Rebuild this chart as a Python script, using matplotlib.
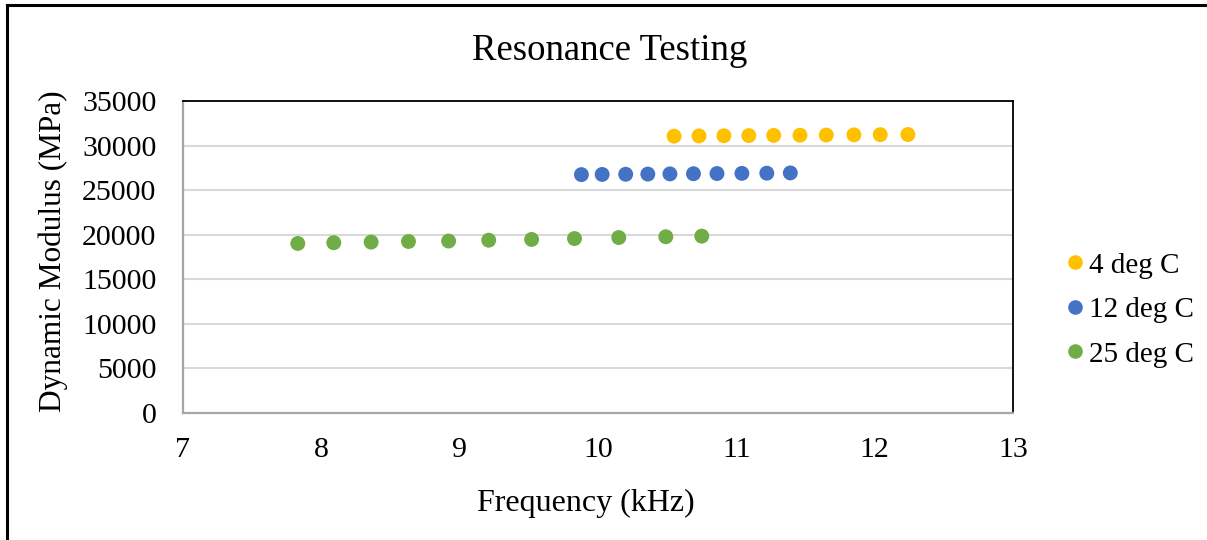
import matplotlib.pyplot as plt
from matplotlib.lines import Line2D

# Resonance test results, frequency (kHz) vs dynamic modulus (MPa)
freq_4c = [10.55, 10.73, 10.91, 11.09, 11.27, 11.46, 11.65, 11.85, 12.04, 12.24]
mod_4c = [31050, 31080, 31100, 31120, 31140, 31160, 31180, 31200, 31220, 31240]

freq_12c = [9.88, 10.03, 10.20, 10.36, 10.52, 10.69, 10.86, 11.04, 11.22, 11.39]
mod_12c = [26740, 26760, 26780, 26800, 26820, 26840, 26860, 26880, 26900, 26930]

freq_25c = [7.83, 8.09, 8.36, 8.63, 8.92, 9.21, 9.52, 9.83, 10.15, 10.49, 10.75]
mod_25c = [19020, 19100, 19170, 19240, 19290, 19380, 19470, 19570, 19680, 19770, 19840]

series = [
    ('4 deg C', freq_4c, mod_4c, '#FFC000'),
    ('12 deg C', freq_12c, mod_12c, '#4472C4'),
    ('25 deg C', freq_25c, mod_25c, '#70AD47'),
]

plt.rcParams['font.family'] = ['Liberation Serif', 'DejaVu Serif']

fig = plt.figure(figsize=(12.07, 5.4), dpi=100)
ax = fig.add_axes([0.1516, 0.2352, 0.6877, 0.5778])

for label, x, y, color in series:
    ax.scatter(x, y, s=115, color=color, edgecolors='none', label=label, zorder=3)

ax.set_xlim(7, 13)
ax.set_ylim(0, 35000)
ax.set_xticks(range(7, 14))
ax.set_yticks(range(0, 35001, 5000))
ax.grid(axis='y', color='#D9D9D9', linewidth=1.5)
ax.set_axisbelow(True)
ax.tick_params(length=0, labelsize=21.5)
ax.tick_params(axis='y', pad=19)
ax.tick_params(axis='x', pad=17)

for side in ['top', 'right']:
    ax.spines[side].set_color('black')
    ax.spines[side].set_linewidth(1.3)
for side in ['left', 'bottom']:
    ax.spines[side].set_color('#A6A6A6')
    ax.spines[side].set_linewidth(1.6)

ax.set_xlabel('Frequency (kHz)', fontsize=23)
ax.xaxis.set_label_coords(0.4855, -0.243)
ax.set_ylabel('Dynamic Modulus (MPa)', fontsize=22.5)
ax.yaxis.set_label_coords(-0.138, 0.52)
fig.text(0.505, 0.906, 'Resonance Testing', fontsize=26.5, ha='center', va='center')

handles = [Line2D([], [], marker='o', linestyle='none', markersize=10.5,
                  color=c, markeredgewidth=0) for _, _, _, c in series]
fig.legend(handles, [s[0] for s in series], loc='center left',
           bbox_to_anchor=(0.8564, 0.426), frameon=False, fontsize=21,
           handletextpad=0.0, labelspacing=0.62, handlelength=1.0)

# outer chart border (left and top edges)
fig.add_artist(Line2D([7 / 1207, 7 / 1207], [0, 1 - 5 / 540], color='black', linewidth=2.2,
                      transform=fig.transFigure))
fig.add_artist(Line2D([7 / 1207, 1], [1 - 5 / 540, 1 - 5 / 540], color='black', linewidth=2.2,
                      transform=fig.transFigure))

fig.savefig('out.png', dpi=100)
